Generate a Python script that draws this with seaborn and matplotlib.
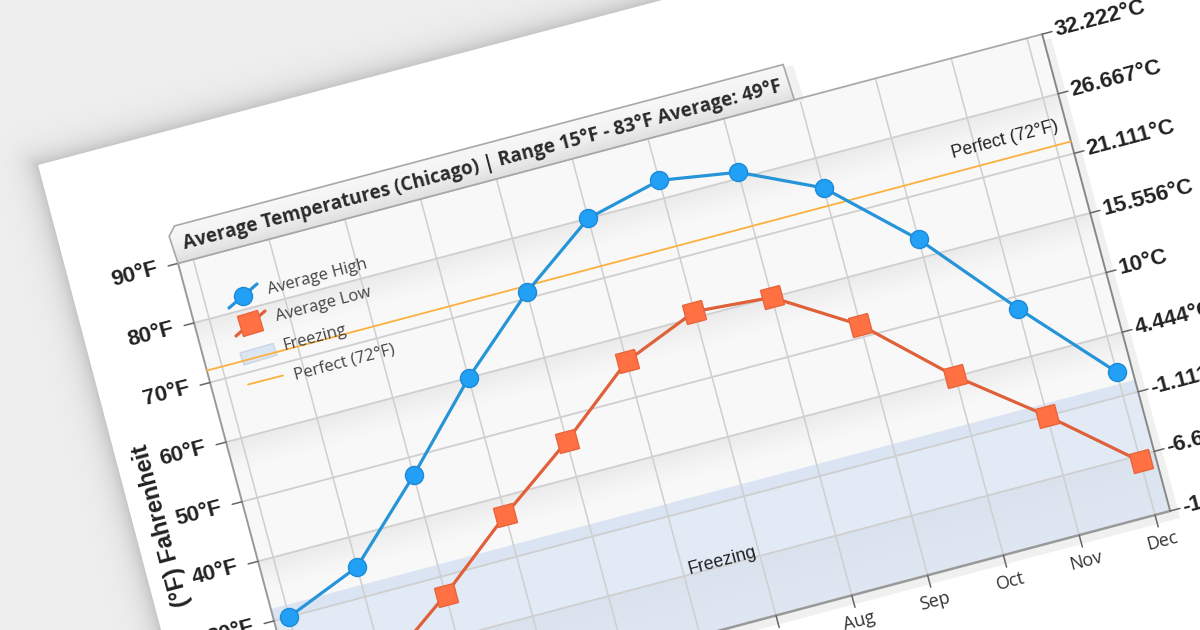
import numpy as np
import pandas as pd
import matplotlib
matplotlib.use("Agg")
import matplotlib.pyplot as plt
from matplotlib.colors import to_rgb
from matplotlib.markers import MarkerStyle
from matplotlib.patches import Polygon
from matplotlib.transforms import Affine2D
import seaborn as sns

months = ["Jan", "Feb", "Mar", "Apr", "May", "Jun", "Jul", "Aug", "Sep", "Oct", "Nov", "Dec"]
high_f = [30, 35, 47, 60, 71, 80, 83, 81, 75, 63, 48, 34]
low_f = [15, 18, 27, 37, 46, 56, 61, 60, 52, 40, 30, 19]
f_ticks = [90, 80, 70, 60, 50, 40, 30, 20, 10]
f_labels = ["90°F", "80°F", "70°F", "60°F", "50°F", "40°F", "30°F", "20°F", "10°F"]
c_labels = ["32.222°C", "26.667°C", "21.111°C", "15.556°C", "10°C", "4.444°C",
            "-1.111°C", "-6.667°C", "-12.222°C"]
freezing_f = 32
perfect_f = 72
title = "Average Temperatures (Chicago) | Range 15°F - 83°F Average: 49°F"

sns.set_theme(style="white")
BOLD = "Liberation Sans"
UI = "Open Sans"
ANGLE = 14.8

fig = plt.figure(figsize=(12, 6.3), dpi=100, facecolor="#eeeeee")
ax = fig.add_axes([0, 0, 1, 1])
ax.set_xlim(0, 1200)
ax.set_ylim(630, 0)
ax.axis("off")
ax.set_autoscale_on(False)

# the tilted plot: month index / deg F -> picture pixels
skew = Affine2D(np.array([[75.8, -1.6, 337.2], [-20.1, -5.96, 795.7], [0, 0, 1]]))
tr = skew + ax.transData
x0, x1 = -0.2, 11.2
ybot, ytop = 10, 90


def rect(l, r, b, t, **kw):
    p = Polygon([(l, b), (r, b), (r, t), (l, t)], closed=True, transform=tr, **kw)
    ax.add_patch(p)
    return p


def gradient(l, r, b, t, stops, z, clip=None):
    # painted top to bottom, each strip running to the band's bottom so no seams show
    cols = np.array([to_rgb(c) for c in stops])
    pos = np.linspace(0, 1, len(stops))
    for u in np.linspace(0, 1, 30, endpoint=False):
        col = [np.interp(u, pos, cols[:, i]) for i in range(3)]
        p = rect(l, r, b, t - u * (t - b), fc=col, ec="none", zorder=z)
        if clip is not None:
            p.set_clip_path(clip)


# page and its soft shadow
px, py = np.meshgrid(np.arange(1200) + 0.5, np.arange(630) + 0.5)
dl = ((px - 38) * -5.96 + (py - 165) * 1.58) / 6.166
dt = ((px - 38) * -20.1 + (py - 165) * -76.0) / 78.6
dist = np.hypot(np.clip(dl, 0, None), np.clip(dt, 0, None))
grey = (238 - 42 * np.exp(-dist / 12.0)) / 255
ax.imshow(grey, extent=(0, 1200, 630, 0), cmap="gray", vmin=0, vmax=1, aspect="auto", zorder=0.1)
page = [(38, 165), (700, -10), (1400, -10), (1400, 800), (206, 800)]
ax.add_patch(Polygon(page, closed=True, fc="white", ec="none", zorder=0.3))

# plot shadow and background
rect(x0, x1 + 0.1, ybot - 1.5, ytop - 1, fc="#f0f0f0", ec="none", zorder=0.5)
rect(x0, x1, ybot, ytop, fc="#f8f8f8", ec="none", zorder=1)
for top in [80, 60, 40]:
    gradient(x0, x1, top - 10, top, ["#ebebeb", "#f3f3f3", "#f8f8f8", "#f8f8f8", "#f8f8f8"], 1.1)
gradient(x0, x1, 10, 20, ["#e8e8e8", "#ececec", "#efefef", "#f0f0f0"], 1.1)

# freezing band, with the slightly darker strip along its top
rect(x0, x1, ybot, freezing_f, fc="#c9dbf5", ec="none", alpha=0.45, zorder=2)
rect(x0, x1, 30, freezing_f, fc="#b8c8de", ec="none", alpha=0.16, zorder=2.1)

# grid
for m in range(len(months)):
    ax.plot([m, m], [ybot, ytop], color="#cfcfcf", lw=1.1, transform=tr, zorder=3)
for f in f_ticks[1:-1]:
    ax.plot([x0, x1], [f, f], color="#cfcfcf", lw=1.3, transform=tr, zorder=3)

# axes frame and ticks
ax.plot([x0, x1], [ytop, ytop], color="#aaaaaa", lw=1.3, transform=tr, zorder=4)
ax.plot([x0, x1], [ybot, ybot], color="#999999", lw=1.8, transform=tr, zorder=4)
ax.plot([x0, x0], [ybot, ytop], color="#999999", lw=1.4, transform=tr, zorder=4)
ax.plot([x1, x1], [ybot, ytop], color="#888888", lw=1.4, transform=tr, zorder=4)
for f, fl, cl in zip(f_ticks, f_labels, c_labels):
    ax.plot([x0 - 0.13, x0], [f, f], color="#666666", lw=1.1, transform=tr, zorder=4)
    ax.plot([x1, x1 + 0.13], [f, f], color="#666666", lw=1.1, transform=tr, zorder=4)
    ax.text(x0 - 0.57, f, fl, transform=tr, rotation=ANGLE, rotation_mode="anchor", ha="center",
            va="center", family=BOLD, weight="bold", fontsize=16, color="#222222", zorder=6)
    ax.text(x1 + 0.17, f, cl, transform=tr, rotation=ANGLE, rotation_mode="anchor", ha="left",
            va="center", family=BOLD, weight="bold", fontsize=16, color="#222222", zorder=6)
for m, name in enumerate(months):
    ax.plot([m, m], [ybot, ybot - 2], color="#666666", lw=1.1, transform=tr, zorder=4)
    ax.text(m, ybot - 4.4, name, transform=tr, rotation=ANGLE, rotation_mode="anchor", ha="center",
            va="center", family=UI, fontsize=13, color="#333333", zorder=6)

# title tab
tab_r = 7.93
tab = [(x0, ytop), (tab_r, ytop), (tab_r - 0.02, ytop + 6), (x0 + 0.08, ytop + 6), (x0 - 0.02, ytop + 4.6)]
ax.add_patch(Polygon([(tab_r, ytop - 0.5), (tab_r + 0.12, ytop - 0.5), (tab_r + 0.1, ytop + 5.5),
                      (tab_r - 0.02, ytop + 5.5)], closed=True, fc="#f1f1f1", ec="none",
                     transform=tr, zorder=3.5))
tab_patch = Polygon(tab, closed=True, fc="none", ec="#a8a8a8", lw=1.2, transform=tr, zorder=4.6)
ax.add_patch(tab_patch)
gradient(x0 - 0.1, tab_r, ytop, ytop + 6, ["#f7f7f7", "#f2f2f2", "#dedede"], 4.5, clip=tab_patch)
ax.text(482, 165, title, rotation=ANGLE, rotation_mode="anchor", ha="center", va="center",
        family=UI, weight="bold", fontsize=13.7, color="#2a2a2a", zorder=7)

# reference line and annotations
ax.plot([x0, x1], [perfect_f, perfect_f], color="#fbb040", lw=1.3, transform=tr, zorder=4.2)
ax.text(1005, 140, "Perfect (72°F)", rotation=ANGLE, rotation_mode="anchor", ha="center", va="center",
        family=BOLD, fontsize=12.7, color="#222222", zorder=6)
ax.text(722, 561, "Freezing", rotation=ANGLE, rotation_mode="anchor", ha="center", va="center",
        family=BOLD, fontsize=13, color="#222222", zorder=6)
ax.text(162, 525, "(°F) Fahrenheit", rotation=90 + ANGLE, rotation_mode="anchor", ha="center",
        va="center", family=BOLD, weight="bold", fontsize=17, color="#222222", zorder=6)

# series
df = pd.DataFrame({"month": np.arange(len(months)), "high": high_f, "low": low_f})
square = MarkerStyle("s", transform=Affine2D().rotate_deg(ANGLE))
sns.lineplot(data=df, x="month", y="high", ax=ax, transform=tr, color="#2594d9", lw=2.3, marker="o",
             markersize=13, markerfacecolor="#22a0f5", markeredgecolor="#1c8ad6", markeredgewidth=1,
             errorbar=None, sort=False, legend=False, zorder=5)
sns.lineplot(data=df, x="month", y="low", ax=ax, transform=tr, color="#e0603a", lw=2.3, marker=square,
             markersize=14, markerfacecolor="#ff7043", markeredgecolor="#e8653b", markeredgewidth=1,
             errorbar=None, sort=False, legend=False, zorder=5)
ax.set_xlabel("")
ax.set_ylabel("")
ax.set_xlim(0, 1200)
ax.set_ylim(630, 0)
ax.axis("off")

# legend, placed by hand because it is tilted with the chart
ax.plot([229, 257], [308, 284], color="#2594d9", lw=2.3, zorder=5)
ax.plot([243], [296], marker="o", ms=13, mfc="#22a0f5", mec="#1c8ad6", mew=1, ls="none", zorder=5)
ax.plot([236, 265], [336, 311], color="#e0603a", lw=2.3, zorder=5)
ax.plot([250], [323], marker=square, ms=15, mfc="#ff7043", mec="#e8653b", mew=1, ls="none", zorder=5)
ax.add_patch(Polygon([(240, 353), (273, 343.5), (277, 355), (244, 365)], closed=True,
                     fc="#dce6f2", ec="#c9d6e6", lw=1, zorder=4.1))
ax.plot([248, 283], [384.5, 375.5], color="#fbb040", lw=1.3, zorder=5)
for (lx, ly), txt in zip([(318, 277), (323, 305), (315, 338), (344, 362)],
                         ["Average High", "Average Low", "Freezing", "Perfect (72°F)"]):
    ax.text(lx, ly, txt, rotation=ANGLE, rotation_mode="anchor", ha="center", va="center",
            family=UI, fontsize=12, color="#444444", zorder=6)

fig.savefig("out.png", dpi=100, facecolor=fig.get_facecolor())
